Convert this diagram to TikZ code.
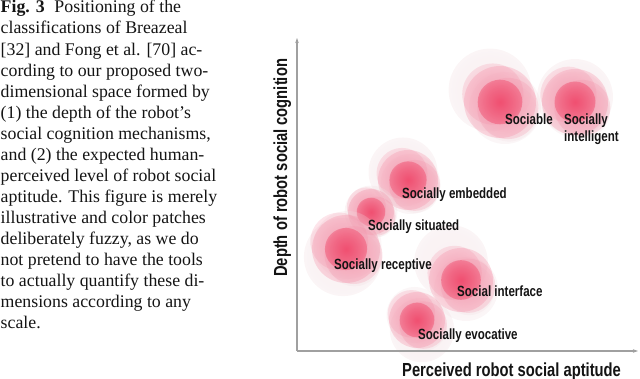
\documentclass[tikz,border=0pt]{standalone}
\usepackage{fontspec}
\setmainfont{Liberation Serif}
\newfontfamily\condsans[FakeStretch=0.78]{Liberation Sans}
\usetikzlibrary{fadings,arrows.meta}
\definecolor{blobcore}{RGB}{240,72,106}
\definecolor{blobmid}{RGB}{245,140,165}
\definecolor{blobpale}{RGB}{240,220,224}
\definecolor{axisgray}{RGB}{160,160,160}
\definecolor{inkcol}{RGB}{20,20,20}
\pgfdeclareradialshading{coreshade}{\pgfpointorigin}{color(0bp)=(white); color(10bp)=(white!80!black); color(50bp)=(black)}
\pgfdeclarefading{corefade}{\pgfuseshading{coreshade}}
\pgfdeclareradialshading{edgeshade}{\pgfpointorigin}{color(0bp)=(white); color(20bp)=(white!85!black); color(50bp)=(black)}
\pgfdeclarefading{edgefade}{\pgfuseshading{edgeshade}}
\newcommand\blob[5]{%
  \fill[blobpale, path fading=edgefade, fill opacity=0.4] ({#1+#4},{#2+#5}) circle[radius={1.15*#3*1pt}];
  \fill[blobpale, path fading=edgefade, fill opacity=0.35] ({#1-0.5*#4},{#2-0.5*#5}) circle[radius={1.0*#3*1pt}];
  \fill[blobpale, path fading=edgefade, fill opacity=0.35] ({#1+0.25*#3},{#2+0.3*#3}) circle[radius={0.8*#3*1pt}];
  \fill[blobmid, path fading=corefade, fill opacity=0.6] (#1,#2) circle[radius={#3*1pt}];
  \fill[blobmid, path fading=corefade, fill opacity=0.45] ({#1+0.22*#3},{#2+0.18*#3}) circle[radius={0.85*#3*1pt}];
  \fill[blobmid, path fading=corefade, fill opacity=0.45] ({#1-0.2*#3},{#2-0.22*#3}) circle[radius={0.85*#3*1pt}];
  \fill[blobcore, path fading=corefade, fill opacity=0.9] (#1,#2) circle[radius={0.62*#3*1pt}];
}
\begin{document}
\begin{tikzpicture}[x=1pt,y=-1pt,
  capline/.style={anchor=base west, inner sep=0pt, text=inkcol, font=\fontsize{17.8}{21}\selectfont},
  blablabel/.style={anchor=base west, inner sep=0pt, text=inkcol, font=\condsans\bfseries\fontsize{14.8}{17}\selectfont},
  axislabel/.style={anchor=base west, inner sep=0pt, text=inkcol, font=\condsans\bfseries\fontsize{18.9}{22}\selectfont},
  axisline/.style={draw=axisgray, line width=1.1pt, -{Stealth[length=5pt,width=3.5pt]}}]
\useasboundingbox (0,0) rectangle (640,379);
% caption
\node[capline] (c1) at (0.5,13) {\textbf{Fig. 3}\hspace{0.55em}Positioning of the};
\node[capline] (c2) at (0.5,34.0) {classifications of Breazeal};
\node[capline] (c3) at (0.5,55.1) {[32] and Fong et al. [70] ac-};
\node[capline] (c4) at (0.5,76.1) {cording to our proposed two-};
\node[capline] (c5) at (0.5,97.1) {dimensional space formed by};
\node[capline] (c6) at (0.5,118.2) {(1) the depth of the robot’s};
\node[capline] (c7) at (0.5,139.2) {social cognition mechanisms,};
\node[capline] (c8) at (0.5,160.2) {and (2) the expected human-};
\node[capline] (c9) at (0.5,181.3) {perceived level of robot social};
\node[capline] (c10) at (0.5,202.3) {aptitude. This figure is merely};
\node[capline] (c11) at (0.5,223.3) {illustrative and color patches};
\node[capline] (c12) at (0.5,244.4) {deliberately fuzzy, as we do};
\node[capline] (c13) at (0.5,265.4) {not pretend to have the tools};
\node[capline] (c14) at (0.5,286.4) {to actually quantify these di-};
\node[capline] (c15) at (0.5,307.5) {mensions according to any};
\node[capline] (c16) at (0.5,328.5) {scale.};
% blobs
\blob{500}{102}{36}{-10}{-12}
\blob{575}{102}{33}{0}{-5}
\blob{408}{180}{30}{-5}{-8}
\blob{371}{212}{23}{0}{0}
\blob{346}{249}{34}{-3}{8}
\blob{461}{280}{32}{-10}{-18}
\blob{417}{320}{28}{5}{10}
% axes
\coordinate (orig) at (297,351);
\coordinate (xend) at (638,351);
\coordinate (yend) at (297,38);
\draw[axisline] (orig) -- (xend);
\draw[axisline] (orig) -- (yend);
\node[axislabel] (xlab) at (402,376.5) {Perceived robot social aptitude};
\node[axislabel, rotate=90] (ylab) at (287,277) {Depth of robot social cognition};
% labels
\node[blablabel] (sociable) at (505,125) {Sociable};
\node[blablabel] (intel1) at (564,125) {Socially};
\node[blablabel] (intel2) at (564,142) {intelligent};
\node[blablabel] (embedded) at (402,199) {Socially embedded};
\node[blablabel] (situated) at (368,231) {Socially situated};
\node[blablabel] (receptive) at (334,270) {Socially receptive};
\node[blablabel] (interface) at (457,297) {Social interface};
\node[blablabel] (evocative) at (418,340) {Socially evocative};
\end{tikzpicture}
\end{document}
